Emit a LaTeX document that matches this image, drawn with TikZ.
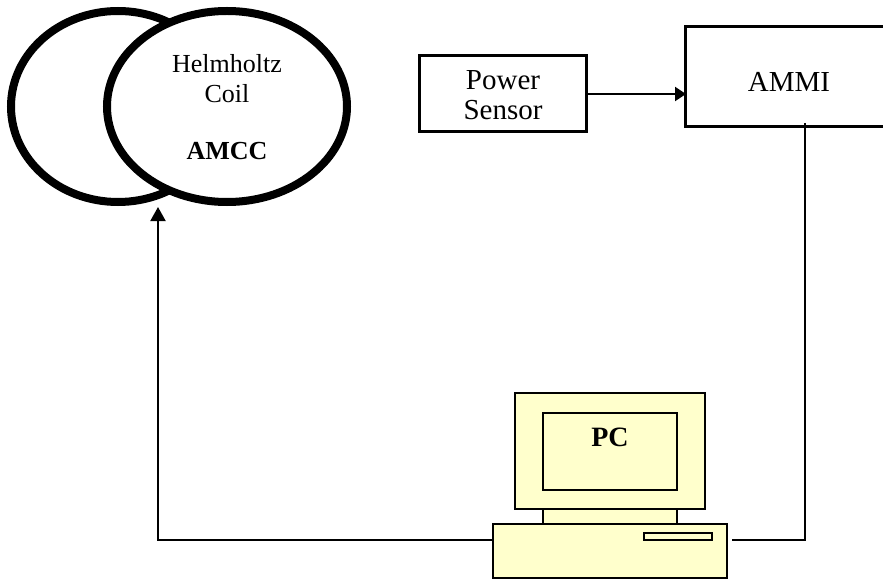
\documentclass[tikz,border=0pt]{standalone}
\usepackage{fontspec}
\setmainfont{Liberation Serif}
\usetikzlibrary{shapes.geometric,arrows.meta}
\definecolor{pcyellow}{HTML}{FFFFCC}
\tikzset{
    coilring/.style={draw,ellipse,line width=8pt,fill=white,inner sep=0pt,outer sep=0pt,minimum width=240pt,minimum height=191pt},
    blockbox/.style={draw,line width=3pt,inner sep=0pt,outer sep=0pt},
    pcpart/.style={draw,line width=2.5pt,fill=pcyellow,inner sep=0pt,outer sep=0pt},
    wire/.style={line width=2pt},
    wiretip/.style={wire,-{Triangle[length=14pt,width=15pt]}},
    plainlabel/.style={inner sep=0pt,align=center}
}
\begin{document}
\begin{tikzpicture}[x=1pt,y=-1pt]
        \useasboundingbox (0,0) rectangle (883,580);
        \clip (0,0) rectangle (883,580);
        % Coil
        \node[coilring,minimum width=214pt] (coilback) at (118,106.5) {};
        \node[coilring] (coilfront) at (227,106.5) {};
        \node[plainlabel,font=\fontsize{26}{30}\selectfont] (coilname) at (227,78.5) {Helmholtz\\Coil};
        \node[plainlabel,font=\fontsize{26}{30}\selectfont\bfseries] (amcc) at (227,151.5) {AMCC};
        % Boxes
        \node[blockbox,minimum width=167pt,minimum height=76pt] (sensor) at (503,93.5) {};
        \node[blockbox,minimum width=208pt,minimum height=100pt] (ammi) at (789,77) {};
        \node[plainlabel,font=\fontsize{29}{30}\selectfont] (sensorname) at (503,95) {Power\\Sensor};
        \node[plainlabel,font=\fontsize{29}{30}\selectfont] (amminame) at (789,81.5) {AMMI};
        % PC
        \node[pcpart,minimum width=134pt,minimum height=20pt] (pcneck) at (610,516) {};
        \node[pcpart,minimum width=190pt,minimum height=116pt] (pcmonitor) at (610,451) {};
        \node[pcpart,minimum width=134pt,minimum height=77pt] (pcscreen) at (610,451.5) {};
        \node[plainlabel,font=\fontsize{28}{30}\selectfont\bfseries] (pclabel) at (610,437.5) {PC};
        \node[pcpart,minimum width=234pt,minimum height=54pt] (pcbase) at (610,551) {};
        \node[pcpart,line width=2pt,minimum width=68pt,minimum height=7pt] (pcslot) at (678,536.5) {};
        % Conexiones
        \coordinate (sensorout) at (585,94);
        \coordinate (ammiin) at (686,94);
        \coordinate (ammiout) at (805,123);
        \coordinate (ammicorner) at (805,539.5);
        \coordinate (pcright) at (732,539.5);
        \coordinate (pcleft) at (493,539.5);
        \coordinate (coilcorner) at (158,539.5);
        \coordinate (coilin) at (158,207);
        \draw[wire,-{Triangle[length=11pt,width=14pt]}] (sensorout) -- (ammiin);
        \draw[wire] (ammiout) -- (ammicorner) -- (pcright);
        \draw[wiretip] (pcleft) -- (coilcorner) -- (coilin);
    \end{tikzpicture}
\end{document}
